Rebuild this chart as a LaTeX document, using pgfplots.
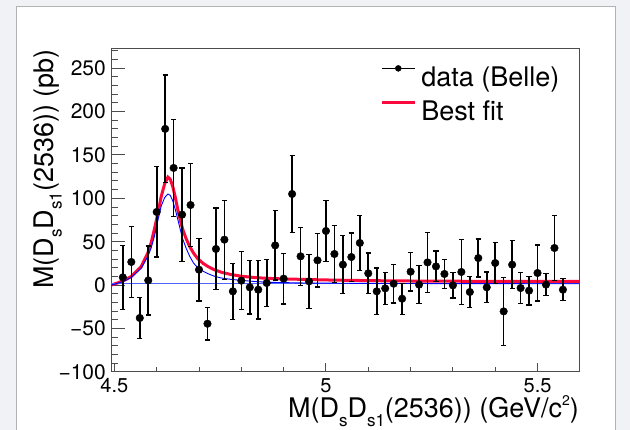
\documentclass[border=0pt]{standalone}
\usepackage{fontspec}
\setmainfont{TeX Gyre Heros}
\usepackage{pgfplots}
\pgfplotsset{compat=1.18}
\usepackage{pgfplotstable}
\definecolor{fitred}{RGB}{250,10,60}
\definecolor{padbg}{RGB}{241,242,246}
\definecolor{bgblue}{RGB}{80,100,255}
\pgfplotstableread{
x y e
4.52 9.0 37
4.54 26.7 41
4.56 -37.8 23.6
4.58 5.5 39.7
4.60 84.3 52
4.62 180 62
4.64 135 55.7
4.66 81.2 53.6
4.68 92.3 48
4.70 17.8 36
4.72 -44.4 18.8
4.74 41.7 47
4.76 52.4 45.5
4.78 -7.1 32.3
4.80 5.2 33.2
4.82 -2.5 30.7
4.84 -5.2 33.8
4.86 2.5 27.3
4.88 45.8 40
4.90 7.5 29.2
4.92 105 44.4
4.94 33.2 33.6
4.96 4.4 31.3
4.98 28.6 30.7
5.00 62.4 35.1
5.02 35.9 32.8
5.04 23.6 33.6
5.06 32.4 27.8
5.08 48.6 31.5
5.10 13.6 23.6
5.12 -7.1 26.9
5.14 -3.7 18.6
5.16 1.7 22.1
5.18 -15.6 17.9
5.20 15.5 22.3
5.22 0.6 22
5.24 26.2 34.6
5.26 21.6 17.7
5.28 12.9 16.9
5.30 -0.2 14.6
5.32 15.2 37.4
5.34 -7.9 18.2
5.36 31.2 21.9
5.38 -2.5 17.5
5.40 25.5 23.4
5.42 -30.2 39.4
5.44 23.6 27.8
5.46 -3.3 18.2
5.48 -6.3 16.5
5.50 14 32.3
5.52 0.6 12.5
5.54 42.8 37.2
5.56 -5.2 12.5
}\datatable
\newcommand\lo[1]{\smash{\raisebox{-8.5pt}{\fontsize{17}{17}\selectfont #1}}}
\newcommand\hi[1]{\smash{\raisebox{12pt}{\fontsize{14}{14}\selectfont #1}}}
\begin{document}
\begin{tikzpicture}[x=1pt,y=1pt]
\path[use as bounding box] (0,0) rectangle (630,430);
\fill[padbg] (0,0) rectangle (630,430);
\filldraw[fill=white, draw=black!30, line width=1pt] (16.5,-5) rectangle (615,423.5);
\begin{axis}[
  scale only axis, width=468pt, height=323pt, at={(111pt,58pt)}, anchor=south west,
  xmin=4.492, xmax=5.598, ymin=-100, ymax=272,
  axis line style={black!70, line width=1pt},
  xtick={4.5,5,5.5}, xticklabels={4.5,5,5.5},
  minor xtick={4.6,4.7,4.8,4.9,5.1,5.2,5.3,5.4},
  ytick={-100,-50,0,50,100,150,200,250},
  yticklabels={−100,−50,0,50,100,150,200,250},
  minor ytick={-90,-80,...,270},
  tick align=inside, xtick pos=bottom, ytick pos=left,
  major tick length=14pt, minor tick length=7pt,
  xtick style={/pgfplots/major tick length=9pt,/pgfplots/minor tick length=5pt},
  tick style={black!70, line width=1pt},
  yticklabel style={anchor=east, inner sep=0pt, xshift=-5pt, font=\fontsize{21}{21}\selectfont},
  xticklabel style={anchor=north, inner sep=0pt, yshift=-6pt, font=\fontsize{20}{20}\selectfont},
  every axis x label/.style={at={(axis description cs:1,-0.1424)}, anchor=base east, inner sep=0pt, font=\fontsize{27}{27}\selectfont},
  every axis y label/.style={at={(axis description cs:-0.1239,1)}, rotate=90, anchor=base east, inner sep=0pt, font=\fontsize{27}{27}\selectfont},
  xlabel={M(D\lo{s}D\lo{s1}(2536)) (GeV/c\hi{2})},
  ylabel={M(D\lo{s}D\lo{s1}(2536)) (pb)},
  legend cell align=left,
  legend style={draw=none, fill=none, inner sep=0pt, at={(0.575,0.9505)}, anchor=north west,
    font=\fontsize{27}{27}\selectfont, row sep=13pt,
    nodes={inner sep=0pt},
    /tikz/every odd column/.append style={column sep=5pt}},
  clip=true,
]
\addlegendimage{legend image code/.code={\draw[black, line width=1.3pt] (0pt,9pt) -- (33pt,9pt); \fill[black] (16.5pt,9pt) circle (3pt);}}
\addlegendentry{data (Belle)}
\addlegendimage{legend image code/.code={\draw[fitred, line width=3pt] (0pt,9pt) -- (33pt,9pt);}}
\addlegendentry{Best fit}
\addplot[fitred, line width=3pt, forget plot] coordinates {
(4.492,0) (4.510,3) (4.525,6) (4.540,10) (4.5634,21.5) (4.579,37) (4.587,49)
(4.595,65.5) (4.603,83) (4.6106,102) (4.619,117) (4.6265,124.5) (4.632,122)
(4.638,113.5) (4.644,101) (4.650,86.5) (4.656,74.5) (4.662,63.5) (4.670,53)
(4.678,44.5) (4.687,37) (4.697,30.5) (4.710,25) (4.721,21.5) (4.735,18)
(4.752,15) (4.775,12.3) (4.800,10.3) (4.830,8.8) (4.863,7.8) (4.90,7.2)
(5.0,6.0) (5.1,5.2) (5.25,4.6) (5.4,4.4) (5.598,4.3)};
\addplot[bgblue, line width=1.2pt, forget plot] coordinates {(4.492,1.5) (5.598,1.5)};
\addplot[blue, line width=0.9pt, forget plot] coordinates {
(4.492,0) (4.510,2.5) (4.525,5) (4.540,9) (4.5634,19.5) (4.579,33) (4.587,43)
(4.595,57) (4.603,75) (4.6106,91) (4.619,101) (4.6265,105) (4.632,103.5)
(4.638,97) (4.644,87) (4.650,75.5) (4.656,63.5) (4.662,52.5) (4.670,42)
(4.678,33.3) (4.687,25.5) (4.697,20) (4.710,16) (4.721,13.3) (4.735,10.5)
(4.752,8.3) (4.775,6.7) (4.800,5.5) (4.830,4.3) (4.863,3.3) (4.95,2.5)
(5.1,2) (5.3,1.8) (5.598,1.6)};
\addplot[black, only marks, mark=*, mark size=3.8pt, forget plot,
  error bars/.cd, y dir=both, y explicit,
  error bar style={line width=1.6pt, black},
  error mark options={rotate=90, mark size=2.6pt, line width=1.3pt, black}]
  table[x=x, y=y, y error=e] {\datatable};
\end{axis}
\end{tikzpicture}
\end{document}
